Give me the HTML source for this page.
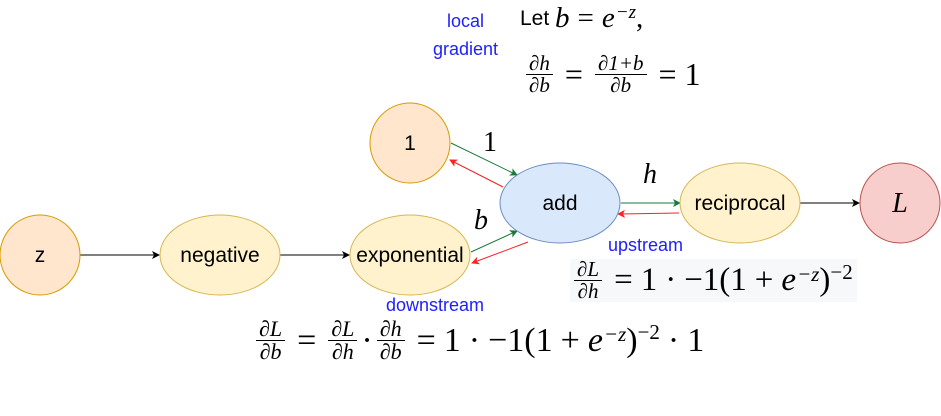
<!DOCTYPE html>
<html><head><meta charset="utf-8"><style>
body{margin:0;width:941px;height:416px;background:#fff;position:relative;overflow:hidden;font-family:"Liberation Sans",sans-serif}
.m{position:absolute;font-family:"Liberation Serif",serif;color:#000;white-space:nowrap;display:flex;align-items:center}
.f{display:inline-flex;flex-direction:column;align-items:center;font-style:italic;margin:0 4px}
.f span:first-child{border-bottom:1px solid #000;padding:0 3px;line-height:1.0}
.f span:last-child{line-height:1.0}
i{font-style:italic}
.b{position:absolute;color:#2020ff;font-size:18px}
sup{line-height:0}
.o{margin:0 8px}
</style></head><body>
<svg width="941" height="416" style="position:absolute;left:0;top:0">
<defs>
<marker id="ak" markerWidth="8" markerHeight="8" refX="7" refY="4" orient="auto" markerUnits="userSpaceOnUse"><path d="M0,0 L8,4 L0,8 L2,4z" fill="#000"/></marker>
<marker id="ag" markerWidth="8" markerHeight="8" refX="7" refY="4" orient="auto" markerUnits="userSpaceOnUse"><path d="M0,0 L8,4 L0,8 L2,4z" fill="#1a7a3a"/></marker>
<marker id="ar" markerWidth="8" markerHeight="8" refX="7" refY="4" orient="auto" markerUnits="userSpaceOnUse"><path d="M0,0 L8,4 L0,8 L2,4z" fill="#ff2020"/></marker>
</defs>
<line x1="80" y1="255" x2="159" y2="255" stroke="#000" marker-end="url(#ak)"/>
<line x1="280" y1="255" x2="349" y2="255" stroke="#000" marker-end="url(#ak)"/>
<line x1="800" y1="203" x2="859" y2="203" stroke="#000" marker-end="url(#ak)"/>
<line x1="451" y1="143" x2="517" y2="175" stroke="#1a7a3a" marker-end="url(#ag)"/>
<line x1="503" y1="187" x2="450" y2="160" stroke="#ff2020" marker-end="url(#ar)"/>
<line x1="471" y1="252" x2="517" y2="231" stroke="#1a7a3a" marker-end="url(#ag)"/>
<line x1="528" y1="242" x2="472" y2="263" stroke="#ff2020" marker-end="url(#ar)"/>
<line x1="621" y1="203" x2="680" y2="203" stroke="#1a7a3a" marker-end="url(#ag)"/>
<line x1="679" y1="213" x2="618" y2="214" stroke="#ff2020" marker-end="url(#ar)"/>
<circle cx="40" cy="255" r="40" fill="#ffe6cc" stroke="#d79b00"/>
<ellipse cx="220" cy="255" rx="60" ry="40" fill="#fff2cc" stroke="#d6b656"/>
<ellipse cx="410" cy="255" rx="60" ry="40" fill="#fff2cc" stroke="#d6b656"/>
<circle cx="410" cy="143" r="40" fill="#ffe6cc" stroke="#d79b00"/>
<ellipse cx="560" cy="203" rx="60" ry="40" fill="#dae8fc" stroke="#6c8ebf"/>
<ellipse cx="740" cy="203" rx="60" ry="40" fill="#fff2cc" stroke="#d6b656"/>
<circle cx="900" cy="203" r="40" fill="#f8cecc" stroke="#b85450"/>
<g font-family="Liberation Sans" font-size="21" text-anchor="middle" fill="#000">
<text x="40" y="262">z</text><text x="220" y="262">negative</text><text x="410" y="262">exponential</text>
<text x="410" y="150">1</text><text x="560" y="210">add</text><text x="740" y="210">reciprocal</text>
</g>
<text x="900" y="212" font-family="Liberation Serif" font-style="italic" font-size="28" text-anchor="middle">L</text>
<text x="490" y="151" font-family="Liberation Serif" font-size="28" text-anchor="middle">1</text>
<text x="650" y="183" font-family="Liberation Serif" font-style="italic" font-size="28" text-anchor="middle">h</text>
<text x="481" y="229" font-family="Liberation Serif" font-style="italic" font-size="28" text-anchor="middle">b</text>
</svg>
<div class="b" style="left:447px;top:11px">local</div>
<div class="b" style="left:433px;top:39px">gradient</div>
<div class="b" style="left:608px;top:235px">upstream</div>
<div class="b" style="left:386px;top:295px">downstream</div>
<div class="m" style="left:520px;top:2px;font-size:29px"><span style="font-family:'Liberation Sans';font-size:21px">Let&nbsp;</span><i>b</i><span class="o">=</span><i>e</i><sup style="font-size:19px;position:relative;top:-6px;margin-left:1px"><i>−z</i></sup>,</div>
<div class="m" style="left:522px;top:53px;font-size:32px"><span class="f" style="font-size:21px"><span>∂h</span><span>∂b</span></span><span class="o">=</span><span class="f" style="font-size:21px"><span>∂1+b</span><span>∂b</span></span><span class="o">=</span>1</div>
<div class="m" style="left:570px;top:259px;font-size:33px;background:#f7f8fa;padding-right:4px"><span class="f" style="font-size:21px"><span>∂L</span><span>∂h</span></span><span class="o">=</span>1<span class="o">·</span>−1(1<span class="o">+</span><i>e</i><sup style="font-size:21px;position:relative;top:-7px;margin-left:1px"><i>−z</i></sup>)<sup style="font-size:21px;position:relative;top:-9px">−2</sup></div>
<div class="m" style="left:252px;top:318px;font-size:34px"><span class="f" style="font-size:22px"><span>∂L</span><span>∂b</span></span><span class="o">=</span><span class="f" style="font-size:22px"><span>∂L</span><span>∂h</span></span>·<span class="f" style="font-size:22px"><span>∂h</span><span>∂b</span></span><span class="o">=</span>1<span class="o">·</span>−1(1<span class="o">+</span><i>e</i><sup style="font-size:21px;position:relative;top:-7px;margin-left:1px"><i>−z</i></sup>)<sup style="font-size:21px;position:relative;top:-9px">−2</sup><span class="o">·</span>1</div>
</body></html>
